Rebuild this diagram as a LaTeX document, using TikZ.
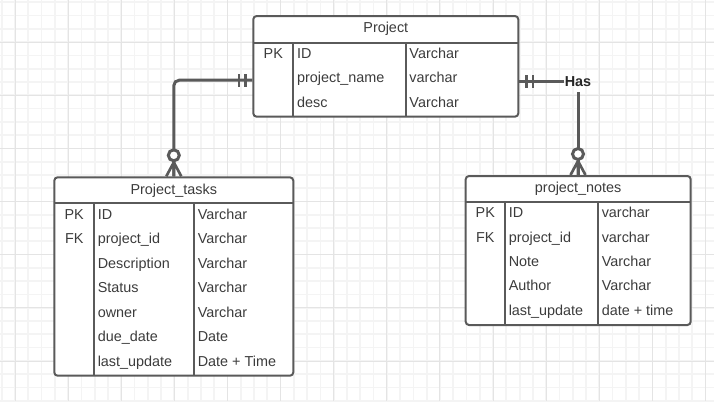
\documentclass[tikz,border=0pt]{standalone}
\usepackage{fontspec}
\setmainfont{Liberation Sans}
\definecolor{erline}{HTML}{5A5A5A}
\definecolor{ertext}{HTML}{3C3C3C}
\definecolor{gridminor}{HTML}{F4F4F4}
\definecolor{gridmajor}{HTML}{E4E4E4}
\tikzset{
  entity/.style={draw=erline, fill=white, line width=1.5pt, rounded corners=2.5pt, inner sep=0pt},
  divider/.style={draw=erline, line width=1.5pt},
  relation/.style={draw=erline, line width=2.25pt, rounded corners=4pt},
  attr/.style={anchor=base west, inner sep=0.75pt, text=ertext, font=\fontsize{10.8}{13}\selectfont, text height=7pt, text depth=3pt},
  keyname/.style={attr, anchor=base},
  title/.style={attr, anchor=base},
  haslabel/.style={anchor=base, inner sep=0.5pt, text=black!85, font=\bfseries\fontsize{10.8}{13}\selectfont},
  onlyone/.pic={
    \draw[erline, line width=1.8pt] (-7,-6.5) -- (-7,6.5) (-13.5,-6.5) -- (-13.5,6.5);
  },
  zeromany/.pic={
    \draw[erline, line width=2pt] (0,14) -- (-7.5,0) (0,14) -- (0,0) (0,14) -- (7.5,0);
    \draw[erline, line width=2.25pt, fill=white] (0,21) circle (5.5);
  }
}
\begin{document}
\begin{tikzpicture}[x=0.75pt,y=0.75pt,yscale=-1,xscale=1]
\useasboundingbox (0,0) rectangle (714,401);

%Background grid
\fill[white] (0,0) rectangle (714,401);
\foreach \i in {0,...,53} \draw[gridminor, line width=1.3pt] ({1.72+13.28*\i},0) -- ++(0,401);
\foreach \j in {0,...,30} \draw[gridminor, line width=1.3pt] (0,{2.3+13.28*\j}) -- ++(714,0);
\foreach \i in {0,...,13} \draw[gridmajor, line width=0.75pt] ({15+53.12*\i},0) -- ++(0,401);
\foreach \j in {0,...,6} \draw[gridmajor, line width=0.75pt] (0,{42.3+53.12*\j}) -- ++(714,0);

%Entity: Project
\node[entity, minimum width=198.75pt, minimum height=75.5pt] (project) at (385.8,66.35) {};
\draw[divider] (253.3,43.3) -- (518.3,43.3);
\draw[divider] (293.3,43.3) -- (293.3,116.7);
\draw[divider] (405.7,43.3) -- (405.7,116.7);
% Text Node
\node[title] (projecttitle) at (385.8,32.7) {Project};
\node[keyname] (projectpk) at (273.3,58.5) {PK};
\node[attr] (pid) at (295.8,58.5) {ID};
\node[attr] (pname) at (295.8,82.9) {project\_name};
\node[attr] (pdesc) at (295.8,107.3) {desc};
\node[attr] (pidtype) at (408.2,58.5) {Varchar};
\node[attr] (pnametype) at (408.2,82.9) {varchar};
\node[attr] (pdesctype) at (408.2,107.3) {Varchar};

%Entity: Project_tasks
\node[entity, minimum width=179.25pt, minimum height=148.8pt] (tasks) at (173.8,276.5) {};
\draw[divider] (54.3,203.3) -- (293.3,203.3);
\draw[divider] (94,203.3) -- (94,375.7);
\draw[divider] (194,203.3) -- (194,375.7);
% Text Node
\node[title] (taskstitle) at (173.8,194) {Project\_tasks};
\node[keyname] (taskspk) at (74.2,219) {PK};
\node[keyname] (tasksfk) at (74.2,243.55) {FK};
\node[attr] (tid) at (96.5,219) {ID};
\node[attr] (tproject) at (96.5,243.55) {project\_id};
\node[attr] (tdescription) at (96.5,268.1) {Description};
\node[attr] (tstatus) at (96.5,292.65) {Status};
\node[attr] (towner) at (96.5,317.2) {owner};
\node[attr] (tdue) at (96.5,341.75) {due\_date};
\node[attr] (tupdate) at (96.5,366.3) {last\_update};
\node[attr] (tidtype) at (196.5,219) {Varchar};
\node[attr] (tprojecttype) at (196.5,243.55) {Varchar};
\node[attr] (tdescriptiontype) at (196.5,268.1) {Varchar};
\node[attr] (tstatustype) at (196.5,292.65) {Varchar};
\node[attr] (townertype) at (196.5,317.2) {Varchar};
\node[attr] (tduetype) at (196.5,341.75) {Date};
\node[attr] (tupdatetype) at (196.5,366.3) {Date + Time};

%Entity: project_notes
\node[entity, minimum width=168.75pt, minimum height=111.75pt] (notes) at (578.2,250.5) {};
\draw[divider] (465.7,202.3) -- (690.7,202.3);
\draw[divider] (505,202.3) -- (505,325);
\draw[divider] (598,202.3) -- (598,325);
% Text Node
\node[title] (notestitle) at (578.2,192.3) {project\_notes};
\node[keyname] (notespk) at (485.3,217.7) {PK};
\node[keyname] (notesfk) at (485.3,242.1) {FK};
\node[attr] (nid) at (507.5,217.7) {ID};
\node[attr] (nproject) at (507.5,242.1) {project\_id};
\node[attr] (nnote) at (507.5,266.5) {Note};
\node[attr] (nauthor) at (507.5,290.9) {Author};
\node[attr] (nupdate) at (507.5,315.3) {last\_update};
\node[attr] (nidtype) at (600.5,217.7) {varchar};
\node[attr] (nprojecttype) at (600.5,242.1) {varchar};
\node[attr] (nnotetype) at (600.5,266.5) {Varchar};
\node[attr] (nauthortype) at (600.5,290.9) {Varchar};
\node[attr] (nupdatetype) at (600.5,315.3) {date + time};

%Relations
\node[haslabel] (has) at (578,86) {Has};
\draw[relation] (project.west |- pname) -| (tasks.north);
\draw[relation] (project.east |- has) -- (has.west);
\draw[relation, shorten <=4pt] (has.south) -- (has.south |- notes.north);
\pic at (project.west |- pname) {onlyone};
\pic[xscale=-1] at (project.east |- has) {onlyone};
\pic at (tasks.north) {zeromany};
\pic at (has.south |- notes.north) {zeromany};

\end{tikzpicture}
\end{document}
